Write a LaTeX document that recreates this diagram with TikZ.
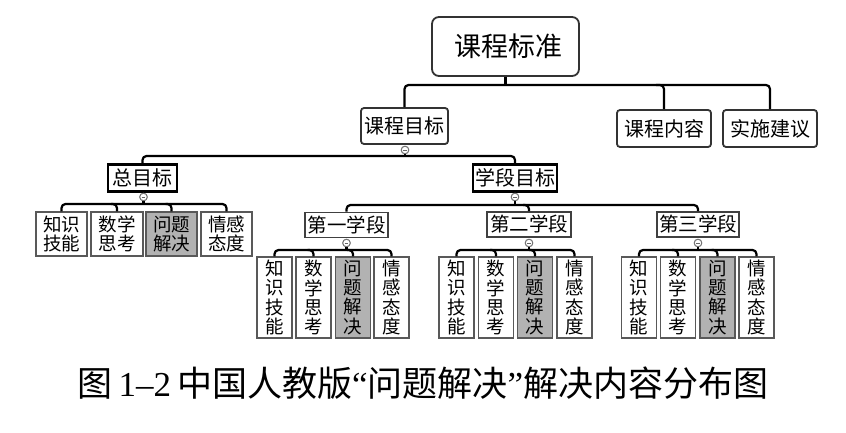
\documentclass[tikz,border=0pt]{standalone}
\usepackage{fontspec}
\setmainfont{Noto Sans CJK SC}
\newfontfamily\serifnum{Liberation Serif}
\begin{document}
\begin{tikzpicture}[x=1pt,y=-1pt,
  box/.style={draw=black!80,line width=1.8pt,fill=white,inner sep=0pt,align=center},
  topbox/.style={box,rounded corners=7pt,minimum width=147pt,minimum height=59pt,font=\fontsize{27}{30}\selectfont},
  rbox/.style={box,rounded corners=3pt,minimum width=90pt,minimum height=36pt,font=\fontsize{20}{22}\selectfont},
  sbox/.style={box,draw=black,line width=2.4pt,minimum height=27pt,font=\fontsize{20}{22}\selectfont},
  stage/.style={box,draw=black!75,line width=1.6pt,minimum height=25pt,font=\fontsize{19.5}{22}\selectfont},
  leafw/.style={box,draw=black!65,line width=1.5pt,minimum width=51pt,minimum height=44pt,font=\fontsize{18.5}{19.5}\selectfont},
  leafv/.style={box,draw=black!65,line width=1.5pt,minimum width=35pt,minimum height=81pt,font=\fontsize{18.5}{19.2}\selectfont},
  hl/.style={fill=black!30},
  conn/.style={draw=black,line width=2.2pt,rounded corners=4pt},
  knob/.style={circle,draw=black!55,fill=white,line width=0.9pt,inner sep=0pt,minimum size=7.5pt,
    path picture={\draw[black!60,line width=0.7pt] ([xshift=1.8pt]path picture bounding box.west) -- ([xshift=-1.8pt]path picture bounding box.east);}}
]
\useasboundingbox (0,0) rectangle (846,433);
\fill[white] (0,0) rectangle (846,433);

% level 0-1
\node[topbox] (top) at (505.5,46.5) {\hspace{6pt}课程标准};
\node[rbox,minimum width=87pt] (kcmb) at (404.5,126) {课程目标};
\node[rbox,minimum width=94pt,minimum height=37pt] (kcnr) at (664,128.5) {课程内容};
\node[rbox,minimum width=94pt,minimum height=37pt] (ssjy) at (770,128.5) {实施建议};
\coordinate (b0) at (505.5,85);
\draw[conn] (kcmb.north) |- (b0) -| (ssjy.north);
\draw[conn] (top.south) -- (b0);
\draw[conn] (kcnr.north) |- ([xshift=-8pt]kcnr.north |- b0);

% level 2
\node[sbox,minimum width=69pt] (zmb) at (142.5,178) {总目标};
\node[sbox,minimum width=84pt] (xdmb) at (515,178) {学段目标};
\node[knob] (k1) at (405,150) {};
\coordinate (b1) at (405,156);
\draw[conn] (zmb.north) |- (b1) -| (xdmb.north);
\draw[conn] (k1) -- (b1);
\node[knob] at (405,150) {};

% leaves under 总目标
\node[leafw] (z1) at (61.5,234) {知识\\技能};
\node[leafw,minimum width=52pt] (z2) at (117,234) {数学\\思考};
\node[leafw,hl] (z3) at (171.5,234) {问题\\解决};
\node[leafw] (z4) at (226.5,234) {情感\\态度};
\node[knob] (k2) at (143.5,197) {};
\coordinate (b2) at (143.5,204);
\draw[conn] (z1.north) |- (b2) -| (z4.north);
\draw[conn] (k2) -- (b2);
\draw[conn] (z2.north) |- ([xshift=-6pt]z2.north |- b2);
\draw[conn] (z3.north) |- ([xshift=-6pt]z3.north |- b2);
\node[knob] at (143.5,197) {};

% stages
\node[stage,minimum width=83pt] (s1) at (346.5,225) {第一学段};
\node[stage,minimum width=84pt] (s2) at (529,224.5) {第二学段};
\node[stage,minimum width=82pt] (s3) at (698,224.5) {第三学段};
\node[knob] (k3) at (515,197) {};
\coordinate (b3) at (515,205);
\draw[conn] (s1.north) |- (b3) -| (s3.north);
\draw[conn] (k3) -- (b3);
\draw[conn] (s2.north) |- ([xshift=-6pt]s2.north |- b3);
\node[knob] at (515,197) {};

% stage leaves
\foreach \s/\xa/\xb/\xc/\xd in {1/274.5/313.5/353/391.5, 2/456.5/496/535/574.5, 3/639/678/717.5/756.5}{
  \node[leafv] (v\s a) at (\xa,297.5) {知\\识\\技\\能};
  \node[leafv] (v\s b) at (\xb,297.5) {数\\学\\思\\考};
  \node[leafv,hl] (v\s c) at (\xc,297.5) {问\\题\\解\\决};
  \node[leafv] (v\s d) at (\xd,297.5) {情\\感\\态\\度};
  \node[knob] (ks\s) at (s\s.south |- 0,243) {};
  \coordinate (bs\s) at (s\s.south |- 0,250);
  \draw[conn] (v\s a.north) |- (bs\s) -| (v\s d.north);
  \draw[conn] (ks\s) -- (bs\s);
  \draw[conn] (v\s b.north) |- ([xshift=-6pt]v\s b.north |- bs\s);
  \draw[conn] (v\s c.north) |- ([xshift=-6pt]v\s c.north |- bs\s);
  \node[knob] at (s\s.south |- 0,243) {};
}

% caption
\node[font=\fontsize{35}{38}\selectfont,inner sep=0pt] (cap) at (423,383)
  {图\,{\serifnum 1–2}\,中国人教版{\serifnum “}问题解决{\serifnum ”}解决内容分布图};
\end{tikzpicture}
\end{document}
